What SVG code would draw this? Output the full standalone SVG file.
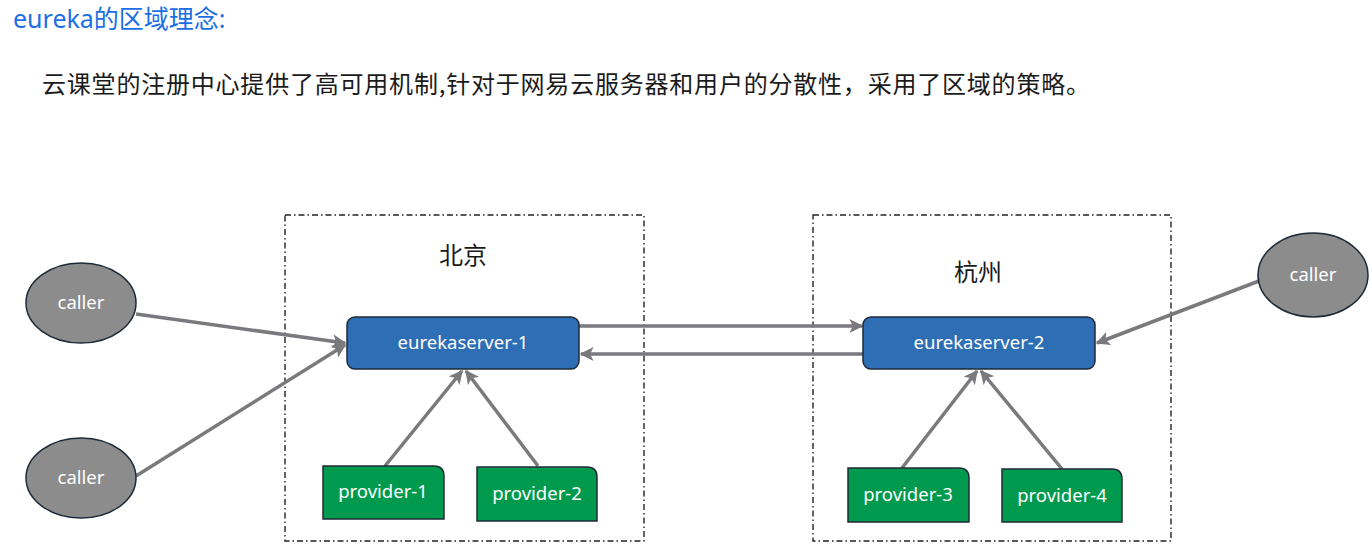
<svg xmlns="http://www.w3.org/2000/svg" width="1372" height="550" viewBox="0 0 1372 550">
<style>
.region{fill:none;stroke:#222;stroke-width:1.4;stroke-dasharray:6 3 1.5 3}
.server{fill:#2e6eb5;stroke:#1e2a38;stroke-width:1.5}
.prov{fill:#009a4e;stroke:#1e2a38;stroke-width:1.5}
.caller{fill:#8c8c8c;stroke:#1e2a38;stroke-width:1.5}
.lbl{font-family:"Noto Sans","Liberation Sans",sans-serif;font-size:18.5px;fill:#fff;text-anchor:middle}
.cjk{font-family:"Noto Sans CJK SC","Noto Sans",sans-serif;fill:#1a1a1a}
.conn{stroke:#7a7a7e;stroke-width:3.5;fill:none;marker-end:url(#ah)}
</style>
<defs>
<marker id="ah" viewBox="0 0 10 10" refX="9" refY="5" markerWidth="4" markerHeight="4" orient="auto" markerUnits="strokeWidth">
<path d="M0,0 L10,5 L0,10 L2.5,5 Z" fill="#7a7a7e"/>
</marker>
</defs>
<rect width="1372" height="550" fill="#fff"/>
<text x="13" y="28" font-family="Noto Sans,Noto Sans CJK SC,sans-serif" font-size="25" fill="#1a6fe6">eureka的区域理念:</text>
<text x="42" y="93" class="cjk" font-size="24" textLength="1048" lengthAdjust="spacing">云课堂的注册中心提供了高可用机制,针对于网易云服务器和用户的分散性，采用了区域的策略。</text>

<g id="region-beijing">
<rect class="region" x="285" y="215" width="359" height="326"/>
<text x="463" y="264" class="cjk" font-size="24" text-anchor="middle">北京</text>
</g>
<g id="region-hangzhou">
<rect class="region" x="813" y="215" width="358" height="326"/>
<text x="978" y="281" class="cjk" font-size="24" text-anchor="middle">杭州</text>
</g>

<g id="connectors">
<line class="conn" x1="136" y1="314" x2="345" y2="343"/>
<line class="conn" x1="136" y1="476" x2="345" y2="345"/>
<line class="conn" x1="1259" y1="281" x2="1097" y2="343"/>
<line class="conn" x1="579" y1="326" x2="862" y2="326"/>
<line class="conn" x1="863" y1="354" x2="581" y2="354"/>
<line class="conn" x1="385" y1="466" x2="462" y2="371"/>
<line class="conn" x1="538" y1="466" x2="466" y2="371"/>
<line class="conn" x1="902" y1="468" x2="977" y2="371"/>
<line class="conn" x1="1062" y1="469" x2="981" y2="371"/>
</g>

<g id="caller-1">
<ellipse class="caller" cx="81" cy="303" rx="55" ry="40"/>
<text class="lbl" x="81" y="309">caller</text>
</g>
<g id="caller-2">
<ellipse class="caller" cx="81" cy="478" rx="55" ry="40"/>
<text class="lbl" x="81" y="484">caller</text>
</g>
<g id="caller-3">
<ellipse class="caller" cx="1313" cy="275" rx="55" ry="42"/>
<text class="lbl" x="1313" y="281">caller</text>
</g>

<g id="eurekaserver-1">
<rect class="server" x="347" y="317" width="232" height="52" rx="8"/>
<text class="lbl" x="463" y="349">eurekaserver-1</text>
</g>
<g id="eurekaserver-2">
<rect class="server" x="863" y="317" width="232" height="52" rx="8"/>
<text class="lbl" x="979" y="349">eurekaserver-2</text>
</g>

<g id="provider-1">
<path class="prov" d="M323,466 H434 Q444,466 444,476 V519 H323 Z"/>
<text class="lbl" x="383" y="498">provider-1</text>
</g>
<g id="provider-2">
<path class="prov" d="M477,467 H587 Q597,467 597,477 V521 H477 Z"/>
<text class="lbl" x="537" y="500">provider-2</text>
</g>
<g id="provider-3">
<path class="prov" d="M848,468 H959 Q969,468 969,478 V522 H848 Z"/>
<text class="lbl" x="908" y="501">provider-3</text>
</g>
<g id="provider-4">
<path class="prov" d="M1002,469 H1112 Q1122,469 1122,479 V522 H1002 Z"/>
<text class="lbl" x="1062" y="502">provider-4</text>
</g>
</svg>
